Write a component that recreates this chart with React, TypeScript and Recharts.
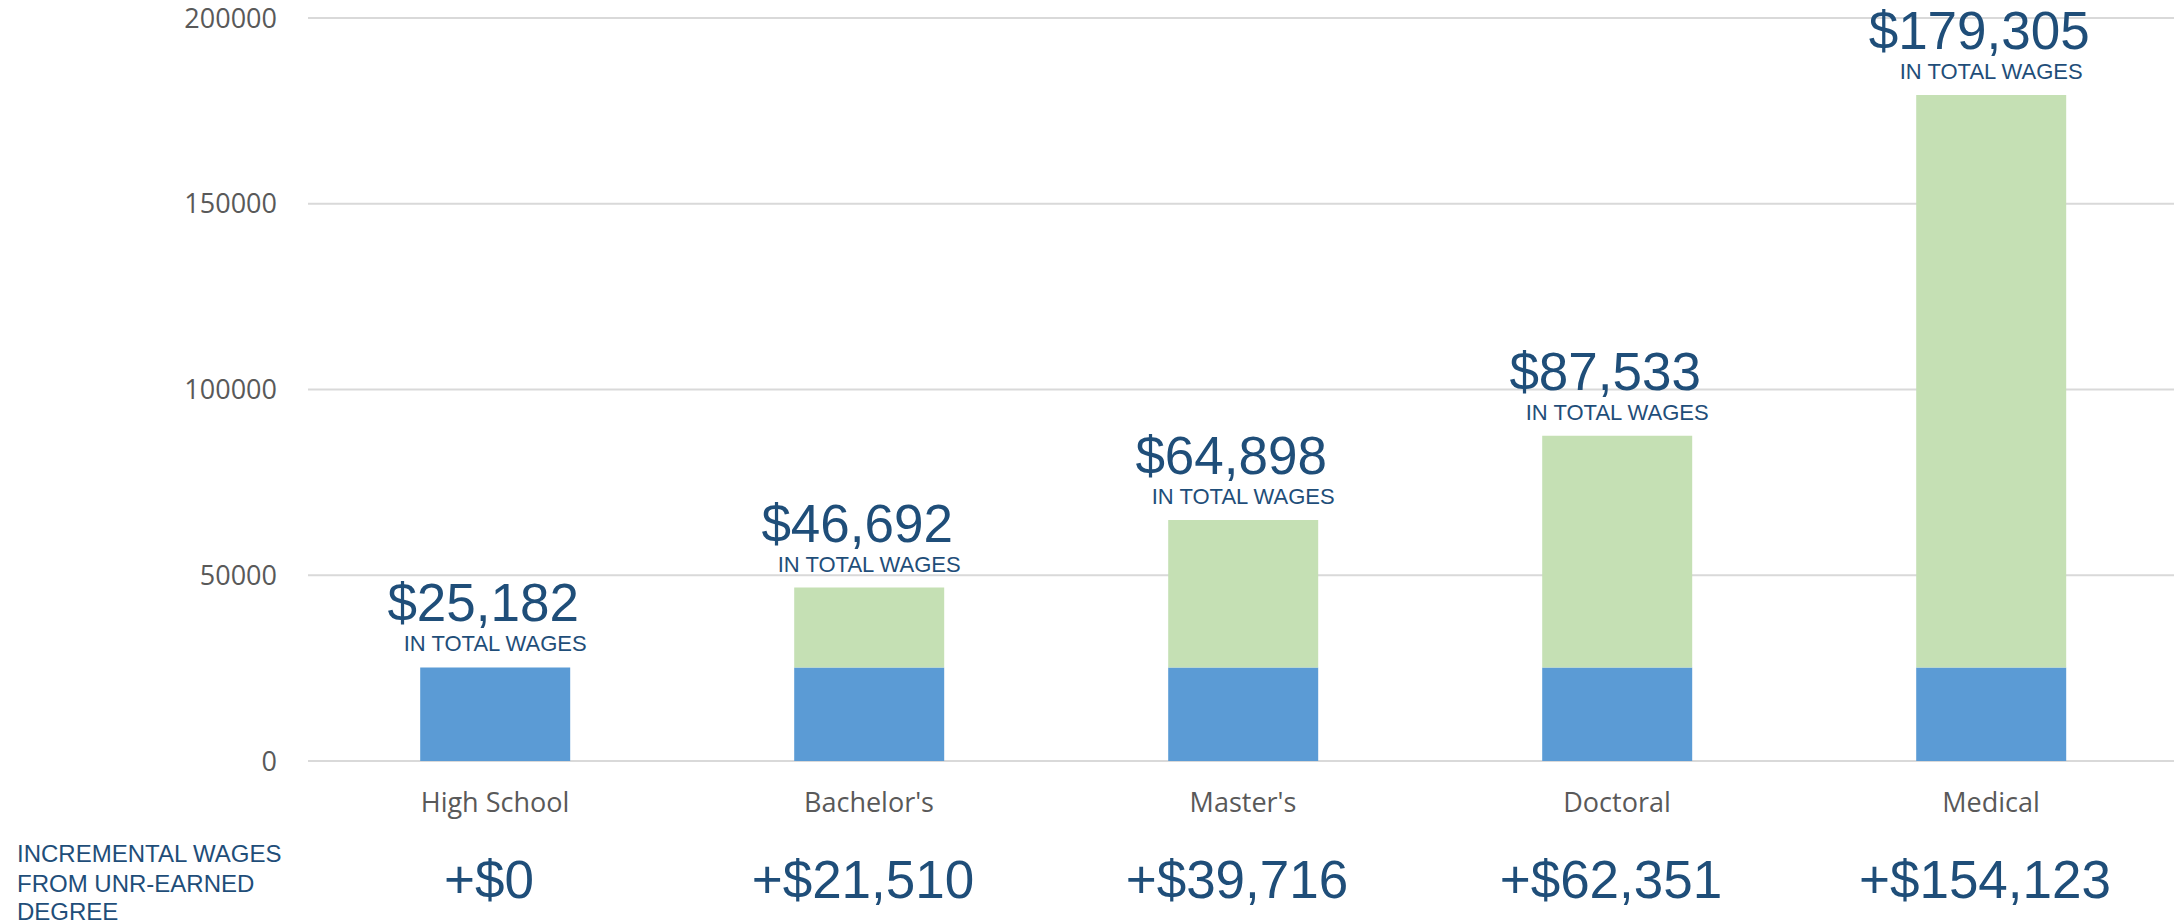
import { BarChart, Bar, XAxis, YAxis, CartesianGrid, LabelList } from 'recharts'

const categories = ["High School", "Bachelor's", "Master's", "Doctoral", "Medical"]
const baseWages = [25182, 25182, 25182, 25182, 25182]
const incrementalWages = [0, 21510, 39716, 62351, 154123]
const totalWages = [25182, 46692, 64898, 87533, 179305]
const yTicks = [0, 50000, 100000, 150000, 200000]

const BLUE = '#5B9BD5'
const GREEN = '#C5E0B4'
const NAVY = '#1F4E79'
const GREY = '#595959'
const ARIAL = "'Liberation Sans', Arial, sans-serif"

const chartData = categories.map((name, i) => ({
  name,
  base: baseWages[i],
  increment: incrementalWages[i],
  total: totalWages[i],
}))

const fmt = (v: number) => '$' + v.toLocaleString('en-US')

// category name + incremental wage figure under each bar
function CategoryTick(props: any) {
  const { x, y, payload, index } = props
  return (
    <g>
      <text x={x} y={y + 51} textAnchor="middle" fill={GREY} fontSize={27} fontFamily="'Open Sans', sans-serif">
        {payload.value}
      </text>
      <text x={x - 6} y={y + 137} textAnchor="middle" fill={NAVY} fontSize={53} fontFamily={ARIAL}>
        {'+' + fmt(incrementalWages[index])}
      </text>
    </g>
  )
}

// total label sits on the blue segment's LabelList; the stack top is found
// from that segment's own pixel height (works for the zero increment too)
function TotalLabel(props: any) {
  const { x, y, width, height, index } = props
  const pxPerUnit = height / baseWages[index]
  const top = y + height - totalWages[index] * pxPerUnit
  const cx = x + width / 2
  return (
    <g>
      <text x={cx - 12} y={top - 46} textAnchor="middle" fill={NAVY} fontSize={53} fontFamily={ARIAL}>
        {fmt(totalWages[index])}
      </text>
      <text x={cx} y={top - 16} textAnchor="middle" fill={NAVY} fontSize={22} fontFamily={ARIAL}>
        IN TOTAL WAGES
      </text>
    </g>
  )
}

export default function App() {
  return (
    <div style={{ position: 'fixed', left: 0, top: 0, width: 2174, height: 924, overflow: 'hidden', background: '#fff' }}>
      <BarChart
        width={2200}
        height={924}
        data={chartData}
        margin={{ top: 18, right: 22, left: 0, bottom: 0 }}
        barCategoryGap="30%"
      >
        <CartesianGrid vertical={false} stroke="#D9D9D9" strokeWidth={2} />
        <XAxis
          dataKey="name"
          height={163}
          axisLine={false}
          tickLine={false}
          tickSize={0}
          tickMargin={0}
          interval={0}
          tick={<CategoryTick />}
        />
        <YAxis
          width={308}
          domain={[0, 200000]}
          ticks={yTicks}
          axisLine={false}
          tickLine={false}
          tickSize={0}
          tickMargin={31}
          tick={{ fill: GREY, fontSize: 27, fontFamily: "'Open Sans', sans-serif" }}
        />
        <Bar dataKey="base" stackId="w" fill={BLUE} isAnimationActive={false}>
          <LabelList dataKey="base" content={<TotalLabel />} />
        </Bar>
        <Bar dataKey="increment" stackId="w" fill={GREEN} isAnimationActive={false} />
      </BarChart>
      <svg width={320} height={110} style={{ position: 'absolute', left: 0, top: 814 }}>
        <g fill={NAVY} fontSize={24} fontFamily={ARIAL}>
          <text x={17} y={48}>INCREMENTAL WAGES</text>
          <text x={17} y={78}>FROM UNR-EARNED</text>
          <text x={17} y={106}>DEGREE</text>
        </g>
      </svg>
    </div>
  )
}
